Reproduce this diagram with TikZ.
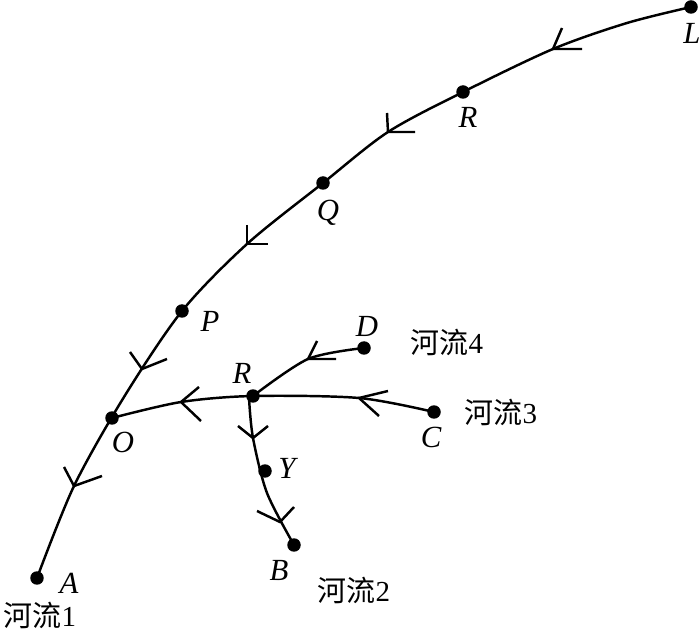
\documentclass[tikz,border=0pt]{standalone}
\usepackage{fontspec}
\setmainfont{Liberation Serif}
\newfontfamily\cjk{Noto Sans CJK SC}
\usepackage{tikz}
\usetikzlibrary{math}
\tikzset{
	river/.style={line width=1.4pt},
	dot/.style={circle,fill=black,inner sep=0pt,minimum size=0.27cm},
	letter/.style={font=\fontsize{17.5}{18}\selectfont\itshape,inner sep=0pt},
	rivername/.style={font=\fontsize{16.5}{18}\selectfont,inner sep=0pt},
}
\begin{document}
\begin{tikzpicture}[x=0.02cm,y=-0.02cm]
\useasboundingbox (0,0) rectangle (700,631);
\tikzmath{
	{\node[dot] (a) at (37,578) {};};
	{\node[dot] (o) at (112,418) {};};
	{\node[dot] (p) at (182,311) {};};
	{\node[dot] (q) at (323,183) {};};
	{\node[dot] (r) at (463,92) {};};
	{\node[dot] (l) at (691,7) {};};
	{\node[dot] (s) at (253,396) {};};
	{\node[dot] (d) at (364,348) {};};
	{\node[dot] (c) at (434,412) {};};
	{\node[dot] (y) at (265,471) {};};
	{\node[dot] (b) at (294,545) {};};
	%
	{\coordinate (m1) at (74,486);};
	{\coordinate (m2) at (142,369);};
	{\coordinate (m3) at (247,244);};
	{\coordinate (m4) at (388,132);};
	{\coordinate (m5) at (553,49);};
	{\coordinate (m6) at (181,402);};
	{\coordinate (m7) at (308,359);};
	{\coordinate (m8) at (359,398);};
	{\coordinate (m9) at (253,438);};
	{\coordinate (m10) at (280,522);};
	{\coordinate (s1) at (249,398);};
	%
	{\draw[river] plot[smooth] coordinates {(a.center) (m1) (124,397) (p.center) (m3) (q.center) (m4) (r.center) (m5) (627,23) (l.center)};};
	{\draw[river] plot[smooth] coordinates {(o.center) (m6) (s.center) (m8) (c.center)};};
	{\draw[river] plot[smooth] coordinates {(s.center) (m7) (d.center)};};
	{\draw[river] plot[smooth] coordinates {(s1) (m9) (267,493) (b.center)};};
	%
	{\path (l) ++(1,26) node[letter] (tl) {L};};
	{\path (r) ++(5,25) node[letter] (tr) {R};};
	{\path (q) ++(5,30) node[letter] (tq) {Q};};
	{\path (p) ++(28,10) node[letter] (tp) {P};};
	{\path (o) ++(11,24) node[letter] (to) {O};};
	{\path (a) ++(32,5) node[letter] (ta) {A};};
	{\path (s) ++(-11,-23) node[letter] (ts) {R};};
	{\path (d) ++(3,-22) node[letter] (td) {D};};
	{\path (c) ++(-3,25) node[letter] (tc) {C};};
	{\path (y) ++(22,-3) node[letter] (ty) {Y};};
	{\path (b) ++(-15,25) node[letter] (tb) {B};};
	%
	{\node[rivername] (one) at (40,615) {{\cjk 河流}1};};
	{\node[rivername] (two) at (354,590) {{\cjk 河流}2};};
	{\node[rivername] (three) at (501,412) {{\cjk 河流}3};};
	{\node[rivername] (four) at (447,342) {{\cjk 河流}4};};
};
\foreach \m/\ux/\uy/\vx/\vy in {m1/64/467/102/476,m2/130/352/167/359,m3/247/225/268/244,m4/387/113/415/132,m5/562/28/582/49,m6/199/387/201/421,m7/317/341/336/359,m8/388/391/379/416,m9/238/426/268/426,m10/257/511/294/507}
	\draw[river] plot[] coordinates {(\ux,\uy) (\m) (\vx,\vy)};
\end{tikzpicture}
\end{document}
